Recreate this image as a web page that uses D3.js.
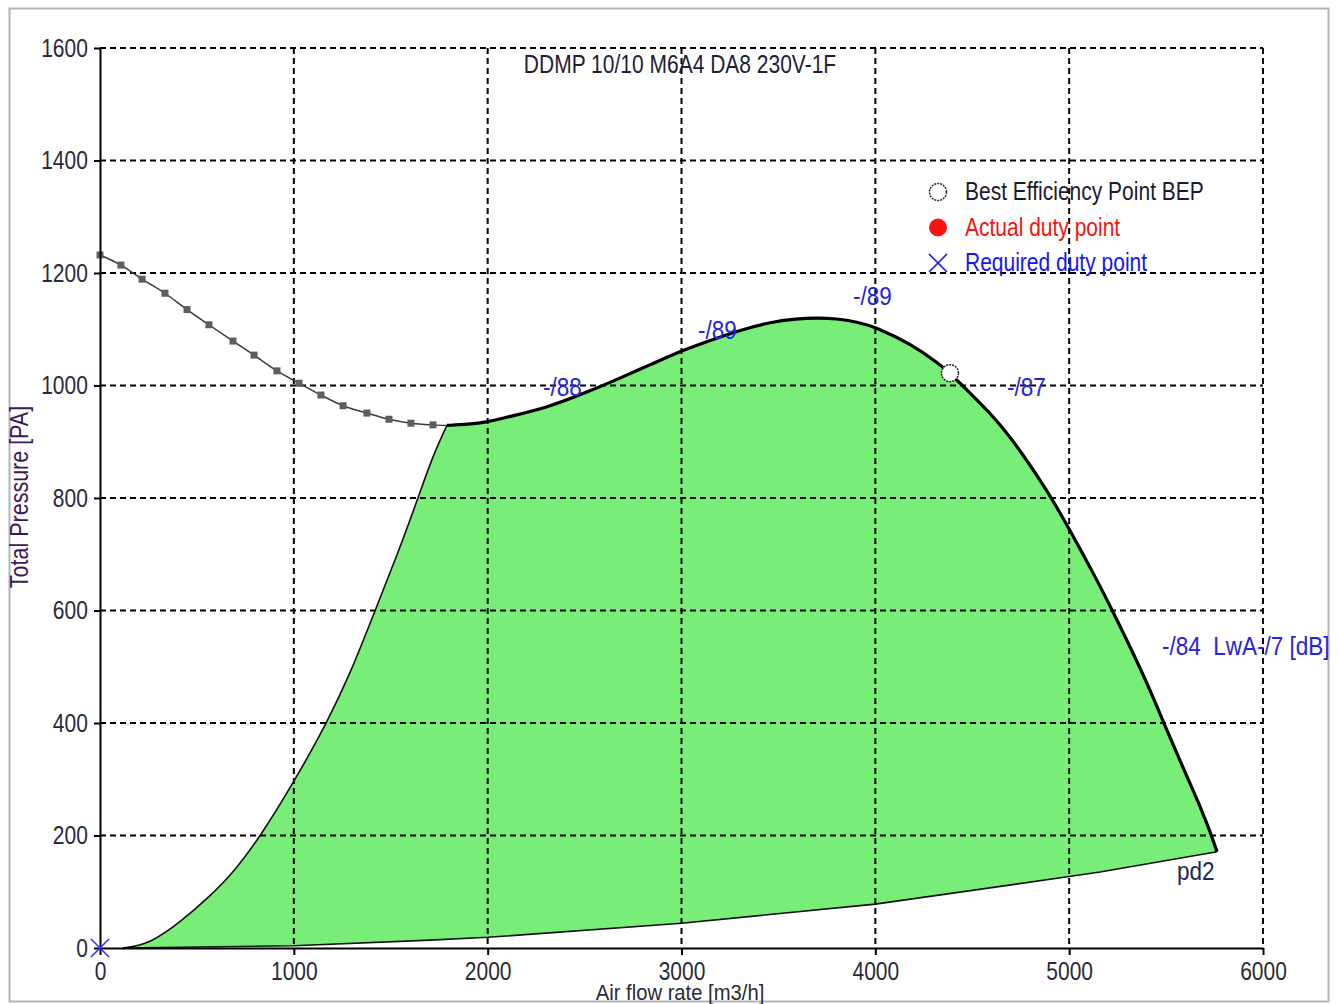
<!DOCTYPE html>
<html lang="en">
<head>
<meta charset="UTF-8">
<title>DDMP 10/10 M6A4 DA8 230V-1F</title>
<script src="https://d3js.org/d3.v7.min.js"></script>
<style>
  body { margin: 0; background: #fff; }
  svg text { font-family: 'Liberation Sans', Arial, sans-serif; }
</style>
</head>
<body>
<script>
// --- data (flow m3/h, pressure Pa) ---
const flowTicks = [0, 1000, 2000, 3000, 4000, 5000, 6000];
const pressureTicks = [0, 200, 400, 600, 800, 1000, 1200, 1400, 1600];

// system curve (grey, with square markers)
const systemFlow = [0, 108, 217, 335, 449, 562, 686, 795, 913, 1027, 1140, 1254, 1377, 1491, 1604, 1718];
const systemPressure = [1232, 1214, 1189, 1164, 1135, 1108, 1079, 1054, 1026, 1004, 983, 964, 951, 940, 933, 930];

// left limit of the working range
const rangeLeft = [[119, 0], [258, 7], [428, 50], [560, 90], [686, 133], [825, 197], [1000, 295],
  [1171, 400], [1300, 495], [1419, 600], [1535, 700], [1641, 800], [1718, 876], [1790, 929]];

// fan curve (thick black)
const fanCurve = [[1790, 929], [1900, 931], [2000, 935], [2100, 944], [2303, 960], [2527, 990],
  [2694, 1015], [2840, 1037], [3000, 1062], [3171, 1083], [3319, 1100], [3448, 1112], [3595, 1119],
  [3700, 1120], [3797, 1119], [3908, 1113], [4000, 1104], [4184, 1074], [4331, 1038], [4385, 1022],
  [4437, 1004], [4628, 939], [4746, 885], [4886, 814], [5004, 743], [5144, 654], [5227, 597],
  [5331, 524], [5434, 446], [5490, 398], [5588, 320], [5691, 240], [5737, 197], [5763, 171]];

// dynamic pressure pd2 (lower limit)
const pd2Curve = [[5763, 171], [5159, 135], [5000, 127], [4000, 78], [3000, 44], [2000, 19], [1703, 14], [1000, 4], [119, 0]];

const bestEfficiency = [4385, 1022];
const requiredDuty = [0, 0];

const soundLabels = [
  { text: "-/88", flow: 2285, pressure: 981 },
  { text: "-/89", flow: 3085, pressure: 1083 },
  { text: "-/89", flow: 3885, pressure: 1143 },
  { text: "-/87", flow: 4679, pressure: 981 },
  { text: "-/84  LwA-/7 [dB]", flow: 5479, pressure: 521 }
];
const pd2Label = { text: "pd2", flow: 5556, pressure: 121 };

const title = "DDMP 10/10 M6A4 DA8 230V-1F";
const xTitle = "Air flow rate [m3/h]";
const yTitle = "Total Pressure [PA]";
const legendItems = [
  { label: "Best Efficiency Point BEP", kind: "open", color: "#1a1a30" },
  { label: "Actual duty point", kind: "filled", color: "#ff1010" },
  { label: "Required duty point", kind: "cross", color: "#1414ff" }
];

// --- layout ---
const W = 1339, H = 1004;
const plot = { left: 100, right: 1263, top: 48, bottom: 948 };
const K = 0.84; // horizontal squeeze, the original font is a narrow one

const svg = d3.select("body").append("svg")
  .attr("width", W).attr("height", H);

svg.append("rect")
  .attr("x", 9.5).attr("y", 8.5).attr("width", 1319).attr("height", 993)
  .attr("fill", "#fff").attr("stroke", "#b4b4b4").attr("stroke-width", 2);

const x = d3.scaleLinear().domain([0, 6000]).range([plot.left, plot.right]);
const y = d3.scaleLinear().domain([0, 1600]).range([plot.bottom, plot.top]);

const smooth = d3.line().x(d => x(d[0])).y(d => y(d[1])).curve(d3.curveBasis);
const straight = d3.line().x(d => x(d[0])).y(d => y(d[1]));

// text placed with a narrow squeeze
function label(parent, tx, ty, str, size, color, k = K, anchor = "start", rot = 0) {
  return parent.append("text")
    .attr("transform", `translate(${tx},${ty})${rot ? ` rotate(${rot})` : ""} scale(${k},1)`)
    .attr("text-anchor", anchor)
    .attr("fill", color)
    .style("font-size", size + "px")
    .style("white-space", "pre")
    .text(str);
}

// green working range
const areaD = smooth(rangeLeft)
  + smooth(fanCurve).replace(/^M/, "L")
  + straight(pd2Curve).replace(/^M/, "L") + "Z";
svg.append("path").attr("d", areaD).attr("fill", "#78ee78");

// dashed grid
const grid = svg.append("g").attr("stroke", "#000").attr("stroke-width", 2).attr("stroke-dasharray", "6,4");
grid.selectAll(".gx").data(flowTicks.filter(v => v > 0)).join("line")
  .attr("x1", d => x(d)).attr("x2", d => x(d))
  .attr("y1", plot.top).attr("y2", plot.bottom);
grid.selectAll(".gy").data(pressureTicks.filter(v => v > 0)).join("line")
  .attr("y1", d => y(d)).attr("y2", d => y(d))
  .attr("x1", plot.left).attr("x2", plot.right);

// system curve
const systemPts = systemFlow.map((f, i) => [f, systemPressure[i]]);
const sysLine = d3.line().x(d => x(d[0])).y(d => y(d[1])).curve(d3.curveMonotoneX);
svg.append("path").attr("d", sysLine(systemPts.concat([fanCurve[0]])))
  .attr("fill", "none").attr("stroke", "#3a3a3a").attr("stroke-width", 1.5);
svg.append("g").selectAll("rect").data(systemPts).join("rect")
  .attr("x", d => x(d[0]) - 3.5).attr("y", d => y(d[1]) - 3.5)
  .attr("width", 7).attr("height", 7).attr("fill", "#5e5e5e");

// range edges
svg.append("path").attr("d", smooth(rangeLeft))
  .attr("fill", "none").attr("stroke", "#111").attr("stroke-width", 1.6);
svg.append("path").attr("d", straight(pd2Curve))
  .attr("fill", "none").attr("stroke", "#111").attr("stroke-width", 1.6);
svg.append("path").attr("d", smooth(fanCurve))
  .attr("fill", "none").attr("stroke", "#000").attr("stroke-width", 3.2).attr("stroke-linejoin", "round");

// axes
const xAxis = svg.append("g").attr("transform", `translate(0,${plot.bottom})`)
  .call(d3.axisBottom(x).tickValues(flowTicks).tickSize(7).tickSizeOuter(0).tickPadding(7).tickFormat(d3.format("d")));
const yAxis = svg.append("g").attr("transform", `translate(${plot.left},0)`)
  .call(d3.axisLeft(y).tickValues(pressureTicks).tickSize(6).tickSizeOuter(0).tickPadding(8.5).tickFormat(d3.format("d")));
[xAxis, yAxis].forEach(a => {
  a.select(".domain").attr("stroke", "#000").attr("stroke-width", 2);
  a.selectAll(".tick line").attr("stroke", "#000").attr("stroke-width", 2);
  a.selectAll(".tick text").attr("fill", "#2a2a38").style("font-size", "25px")
    .attr("transform", `scale(${K},1)`);
});

// required duty point (blue cross at origin)
const cross = (g, cx, cy, s, color) => {
  g.append("path")
    .attr("d", `M${cx - s},${cy - s}L${cx + s},${cy + s}M${cx - s},${cy + s}L${cx + s},${cy - s}`)
    .attr("stroke", color).attr("stroke-width", 1.6).attr("fill", "none");
};
cross(svg, x(requiredDuty[0]), y(requiredDuty[1]), 9, "#3030ff");

// best efficiency point
svg.append("circle")
  .attr("cx", x(bestEfficiency[0])).attr("cy", y(bestEfficiency[1])).attr("r", 8.5)
  .attr("fill", "#fff").attr("stroke", "#222").attr("stroke-width", 1.5).attr("stroke-dasharray", "2,1");

// sound labels
soundLabels.forEach(d => label(svg, x(d.flow), y(d.pressure), d.text, 25, "#2424e0", 0.9));
label(svg, x(pd2Label.flow), y(pd2Label.pressure), pd2Label.text, 25, "#1c2a55", 0.9);

// titles
label(svg, 680, 73, title, 25, "#1e1e36", K, "middle");
label(svg, 680, 1000, xTitle, 22, "#2a2a38", 0.92, "middle");
label(svg, 28, 497, yTitle, 25, "#3c1a5a", 0.86, "middle", -90);

// legend
const legend = svg.append("g").attr("transform", "translate(938,192)");
legendItems.forEach((item, i) => {
  const g = legend.append("g").attr("transform", `translate(0,${i * 35.5})`);
  if (item.kind === "open") {
    g.append("circle").attr("r", 8.5).attr("fill", "#fff").attr("stroke", "#222")
      .attr("stroke-width", 1.5).attr("stroke-dasharray", "2,1");
  } else if (item.kind === "filled") {
    g.append("circle").attr("r", 9).attr("fill", item.color);
  } else {
    cross(g, 0, 0, 9, item.color);
  }
  label(g, 27, 8, item.label, 25, item.color, K);
});
</script>
</body>
</html>
